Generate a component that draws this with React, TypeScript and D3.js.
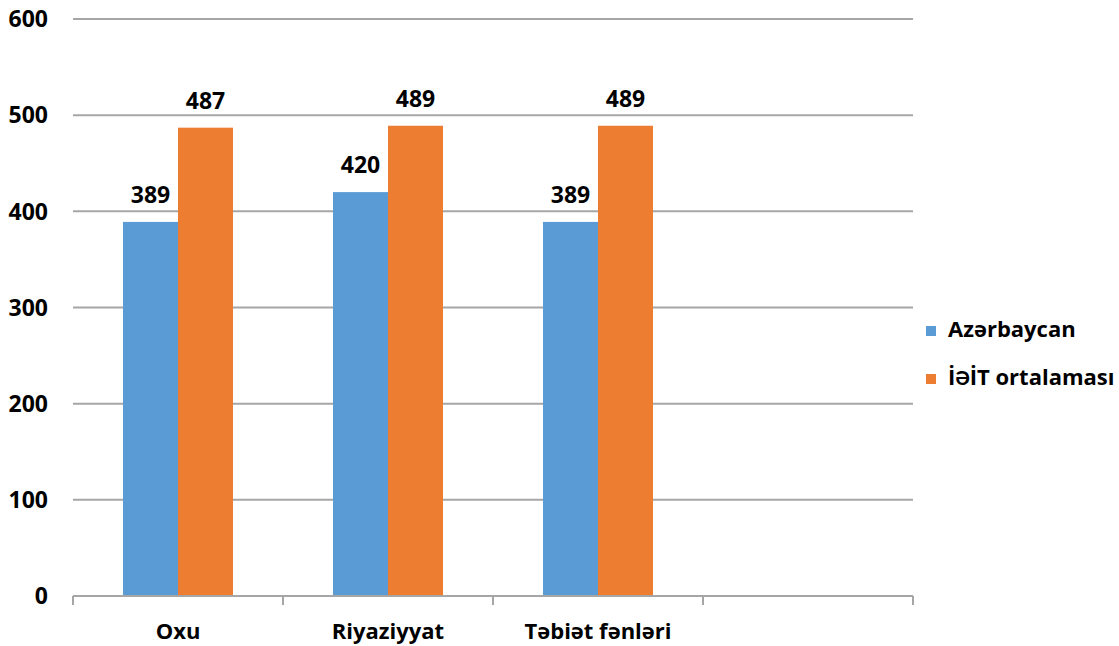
import React from "react";
import * as d3 from "d3";

const categories = ["Oxu", "Riyaziyyat", "Təbiət fənləri"];
const seriesNames = ["Azərbaycan", "İƏİT ortalaması"];
const azerbaijan = [389, 420, 389];
const oecdAverage = [487, 489, 489];
const yTicks = [0, 100, 200, 300, 400, 500, 600];

const seriesValues = [azerbaijan, oecdAverage];
const colors = ["#5B9BD5", "#ED7D31"];

const W = 1119;
const H = 646;
const left = 73;
const right = 913;
const top = 19;
const bottom = 596;
const FONT = "'Open Sans', Calibri, sans-serif";

export default function App() {
  // four category slots; the last one is left empty
  const slots = [...categories, "__empty__"];
  const x = d3.scaleBand<string>().domain(slots).range([left, right]).paddingInner(0).paddingOuter(0);
  const xs = d3
    .scaleBand<string>()
    .domain(seriesNames)
    .range([0, x.bandwidth()])
    .paddingInner(0)
    .paddingOuter(50 / 55);
  const y = d3.scaleLinear().domain([0, 600]).range([bottom, top]);

  const boundaries = [...slots.map((s) => x(s) as number), right];

  return (
    <svg width={W} height={H} style={{ position: "absolute", left: 0, top: 0, background: "#fff" }}>
      {yTicks
        .filter((t) => t > 0)
        .map((t) => (
          <line key={t} x1={left} x2={right} y1={y(t)} y2={y(t)} stroke="#A6A6A6" strokeWidth={2} />
        ))}
      {yTicks.map((t) => (
        <text
          key={"l" + t}
          x={48}
          y={y(t)}
          dy="0.36em"
          textAnchor="end"
          fontFamily={FONT}
          fontWeight={700}
          fontSize={23}
          fill="#000"
        >
          {t}
        </text>
      ))}
      {categories.map((c, ci) =>
        seriesNames.map((s, si) => {
          const v = seriesValues[si][ci];
          const bx = (x(c) as number) + (xs(s) as number);
          return (
            <g key={c + s}>
              <rect x={bx} y={y(v)} width={xs.bandwidth()} height={y(0) - y(v)} fill={colors[si]} />
              <text
                x={bx + xs.bandwidth() / 2}
                y={y(v) - 19}
                textAnchor="middle"
                fontFamily={FONT}
                fontWeight={700}
                fontSize={23}
                fill="#000"
              >
                {v}
              </text>
            </g>
          );
        })
      )}
      <line x1={left} x2={right} y1={bottom} y2={bottom} stroke="#A6A6A6" strokeWidth={2} />
      {boundaries.map((bx, i) => (
        <line key={"t" + i} x1={bx} x2={bx} y1={bottom} y2={bottom + 9} stroke="#A6A6A6" strokeWidth={2} />
      ))}
      {categories.map((c) => (
        <text
          key={"c" + c}
          x={(x(c) as number) + x.bandwidth() / 2}
          y={639}
          textAnchor="middle"
          fontFamily={FONT}
          fontWeight={700}
          fontSize={22}
          fill="#000"
        >
          {c}
        </text>
      ))}
      {seriesNames.map((s, i) => (
        <g key={"lg" + s} transform={`translate(926, ${326 + i * 48})`}>
          <rect x={0} y={0} width={10} height={10} fill={colors[i]} />
          <text x={22} y={10.5} fontFamily={FONT} fontWeight={700} fontSize={22} fill="#000">
            {s}
          </text>
        </g>
      ))}
    </svg>
  );
}
